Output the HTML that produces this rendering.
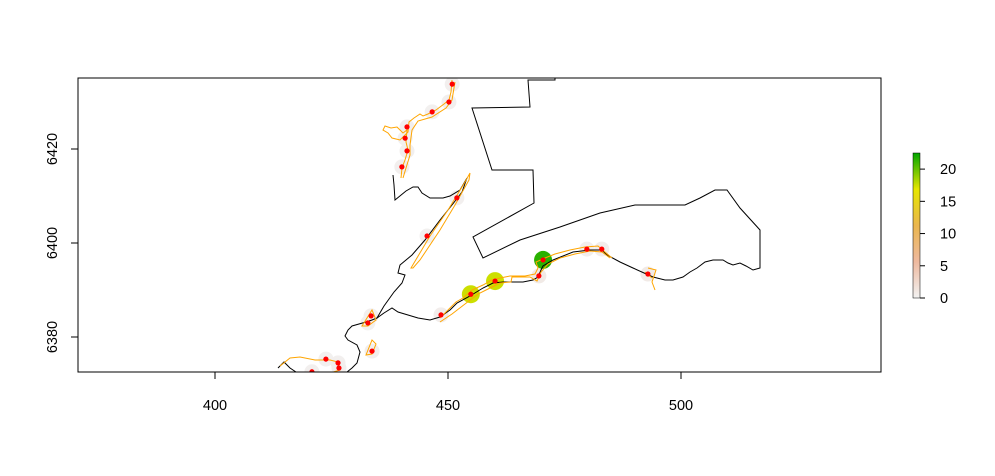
<!DOCTYPE html>
<html><head><meta charset="utf-8"><style>
body{margin:0;background:#fff}
svg text{font-family:"Liberation Sans",Arial,sans-serif;font-size:14.5px;fill:#000}
</style></head><body>
<svg width="995" height="471" viewBox="0 0 995 471">
<defs>
<clipPath id="pc"><rect x="78" y="78" width="803" height="294"/></clipPath>
<linearGradient id="lg" x1="0" y1="1" x2="0" y2="0">
<stop offset="0" stop-color="#F2F2F2"/><stop offset="0.25" stop-color="#EEB99F"/><stop offset="0.5" stop-color="#EAB64E"/><stop offset="0.75" stop-color="#E6E600"/><stop offset="1" stop-color="#00A600"/>
</linearGradient>
</defs>
<g clip-path="url(#pc)">
<g id="pts"></g>
<path fill="none" stroke="#000" stroke-width="1" d="M278,368 L284,362 L290,368 L296,372 M347,372 L352,368 L357,363 L360,352 L357,345 L348,340 L345,336 L348,330 L352,326 L366,322 L372,320 L377,318 L384,313 L392,308 L398,312 L408,315 L418,318 L430,320 L440,317 L450,310 L457,303 L470,296 L483,288 L493,283 L503,282 L513,282 L523,282 L533,280 L538,277 L541,270 L543,266 L553,260 L573,252 L590,250 L602,250 L607,255 L620,262 L633,268 L653,277 L665,280 L673,280 L683,277 L690,272 L697,268 L705,262 L713,260 L723,260 L728,263 L733,265 L740,263 L746,266 L753,270 L760,268 L760,230 L740,208 L727,190 L715,190 L700,198 L685,205 L660,205 L635,205 L600,213 L560,227 L520,240 L483,258 L473,237 L534,203 L533,170 L492,170 L472,108 L530,107 L528,80 L555,80 L555,70"/>
<path fill="none" stroke="#000" stroke-width="1" d="M377,318 L384,306 L394,292 L402,283 L405,275 L398,273 L400,265 L412,255 L425,240 L440,220 L452,205 L462,192 L467,178 M467,178 L460,190 L450,196 L443,198 L430,198 L422,193 L418,187 L413,187 L406,191 L395,200 L394,185 L393,175"/>
<g fill="none" stroke="#FFA500" stroke-width="1">
<path d="M452,80 L451,92 L449,100 L444,104 L436,110 L428,114 L423,116 L420,114 L414,118 L409,122 L408,132 L405,135 L400,140 L392,138 L388,133 L383,130 L385,126 L391,128 L397,127 L403,133 L407,130 L406,142 L408,150 L405,160 L402,168 L401,178 M455,82 L452,100 L446,108 L432,117 L418,121 L412,130 L410,145 L410,155 L406,168 L403,178"/>
<path d="M411,268 L430,236 L448,210 L465,182 L470,173 L469,180 L455,205 L440,230 L420,260 L413,268 Z"/>
<path d="M440,318 L448,310 L456,302 L463,298 L472,290 L483,285 L492,280 L500,278 L510,276 L525,276 L535,274 L538,268 L536,262 L545,258 L555,254 L570,250 L585,247 L598,246 L605,252 L612,258 M440,322 L452,314 L465,304 L478,294 L490,288 L500,283 L511,282 L512,277 L530,277 L537,281 L541,272 L548,264 L560,258 L575,254 L590,251 L602,252 L610,258"/>
<path d="M648,268 L656,270 L652,282 L655,290 M645,272 L652,278"/>
<path d="M280,366 L290,358 L300,357 L315,360 L330,360 L338,362 L340,370 L330,373 L300,373 L290,372 M362,326 L372,310 L376,320 L368,326 Z M366,355 L372,340 L376,344 L372,354 Z"/>
</g>
<g id="dots"></g>
</g>
<rect x="78" y="78" width="803" height="294" fill="none" stroke="#000"/>
<g id="axes"></g>
<rect x="913" y="153" width="7" height="145" fill="url(#lg)" stroke="#000" stroke-width="0.5"/>
<g id="cbar"></g>
</svg>
<script>
const NS="http://www.w3.org/2000/svg";
const xTicks=[400,450,500];
const yTicks=[6380,6400,6420];
const cbTicks=[0,5,10,15,20];
const ptX=[450.9,450.2,446.6,441.2,440.8,441.2,440.1,451.9,445.5,448.5,454.9,460.1,469.5,470.4,479.8,483.0,433.5,432.8,433.7,423.8,426.4,426.6,420.8,492.9];
const ptY=[6433.8,6430.0,6427.9,6424.7,6422.3,6419.6,6416.2,6409.6,6401.5,6384.7,6389.1,6391.9,6393.0,6396.4,6398.7,6398.7,6384.5,6383.0,6377.0,6375.3,6374.5,6373.4,6372.6,6393.4];
const ptV=[0.3,0.3,0.2,0.3,0.2,0.3,0.3,0.3,0.2,0.5,17.5,17.5,0.8,21.5,0.4,0.5,0.3,0.2,0.4,0.2,0.3,0.3,0.3,0.8];
const sx=v=>215+(v-400)*4.66;
const sy=v=>243-(v-6400)*4.7;
const cy=v=>298-v*(145/22.5);
const stops=[[0,[242,242,242]],[0.25,[238,185,159]],[0.5,[234,182,78]],[0.75,[230,230,0]],[1,[0,166,0]]];
function col(v){let t=Math.max(0,Math.min(1,v/22.5));for(let i=1;i<stops.length;i++){if(t<=stops[i][0]){const a=stops[i-1],b=stops[i],f=(t-a[0])/(b[0]-a[0]);return"rgb("+a[1].map((c,k)=>Math.round(c+(b[1][k]-c)*f)).join(",")+")";}}return"rgb(0,166,0)";}
function mk(t,a,p){const e=document.createElementNS(NS,t);for(const k in a)e.setAttribute(k,a[k]);p.appendChild(e);return e;}
const pts=document.getElementById('pts');
const dots=document.getElementById('dots');
ptX.forEach((x,i)=>{const c=mk('circle',{cx:sx(x),cy:sy(ptY[i]),r:ptV[i]>5?9:7.5,fill:col(ptV[i])},pts);

});
ptX.forEach((x,i)=>{const c=mk('circle',{cx:sx(x),cy:sy(ptY[i]),r:2.6,fill:'#FF0000'},dots);

});
const ax=document.getElementById('axes');
xTicks.forEach(v=>{const l=mk('line',{x1:sx(v),x2:sx(v),y1:372,y2:379,stroke:'#000'},ax);


const t=mk('text',{x:sx(v),y:410,'text-anchor':'middle'},ax);t.textContent=v;

});
yTicks.forEach(v=>{const l=mk('line',{x1:71,x2:78,y1:sy(v),y2:sy(v),stroke:'#000'},ax);


const t=mk('text',{x:57,y:sy(v),'text-anchor':'middle',transform:`rotate(-90 57 ${sy(v)})`},ax);t.textContent=v;

});
const cb=document.getElementById('cbar');
cbTicks.forEach(v=>{const l=mk('line',{x1:920,x2:925,y1:cy(v),y2:cy(v),stroke:'#000'},cb);


const t=mk('text',{x:940,y:cy(v)+5},cb);t.textContent=v;

});
</script>
</body></html>
